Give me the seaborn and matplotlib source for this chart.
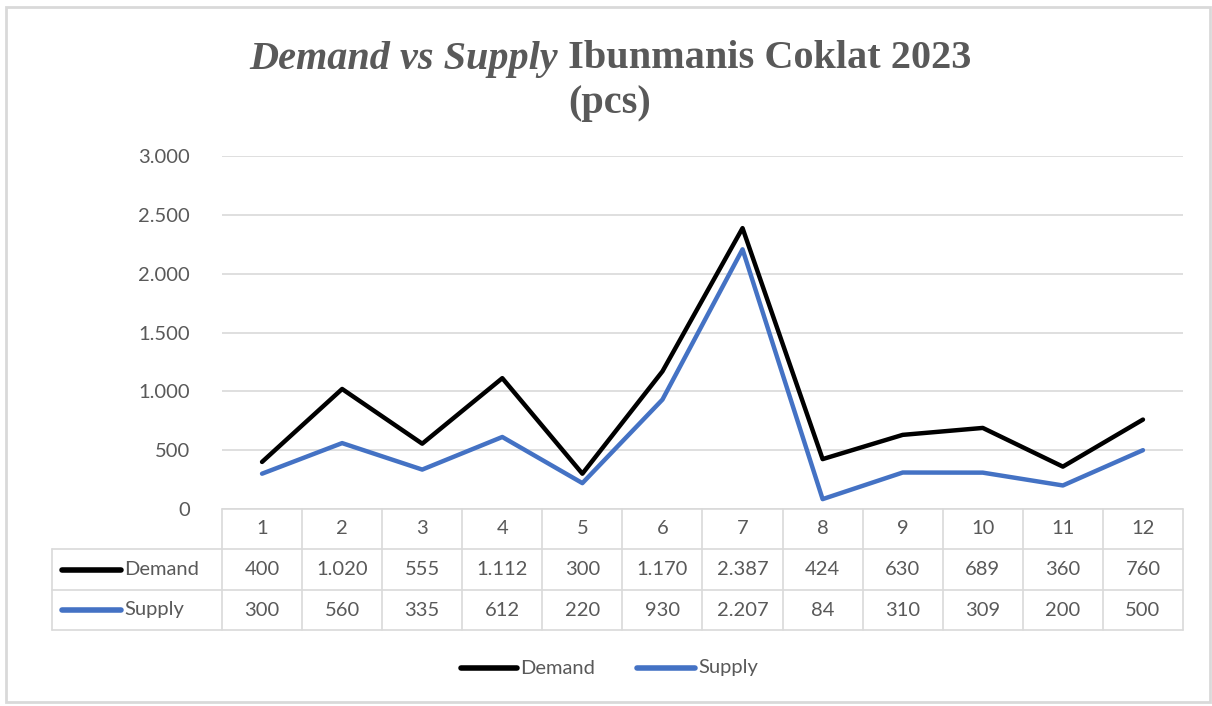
import matplotlib
matplotlib.use("Agg")
import matplotlib.pyplot as plt
import matplotlib.transforms as mtrans
from matplotlib.lines import Line2D
from matplotlib.patches import Rectangle
import seaborn as sns
import pandas as pd

months = ["1", "2", "3", "4", "5", "6", "7", "8", "9", "10", "11", "12"]
demand = [400, 1020, 555, 1112, 300, 1170, 2387, 424, 630, 689, 360, 760]
supply = [300, 560, 335, 612, 220, 930, 2207, 84, 310, 309, 200, 500]
yticks = [0, 500, 1000, 1500, 2000, 2500, 3000]
series_names = ["Demand", "Supply"]
colors = {"Demand": "#000000", "Supply": "#4472C4"}

def fmt(v):
    return f"{v:,}".replace(",", ".")

sns.set_theme(style="white")
plt.rcParams["font.family"] = ["Lato", "DejaVu Sans"]
TXT = "#595959"
GRID = "#d9d9d9"
FS = 14.5

W, H = 1212, 706
fig = plt.figure(figsize=(W / 100, H / 100), dpi=100)

def fx(px):
    return px / W

def fy(py):
    return 1 - py / H

left, right, top, bottom = 222, 1183, 156, 509
ax = fig.add_axes([fx(left), fy(bottom), fx(right - left), (bottom - top) / H])

df = pd.DataFrame({
    "x": list(range(len(months))) * 2,
    "value": demand + supply,
    "series": ["Demand"] * len(months) + ["Supply"] * len(months),
})
sns.lineplot(data=df, x="x", y="value", hue="series", palette=colors,
             linewidth=3.2, ax=ax, legend=False, solid_capstyle="round")

ax.set_xlim(-0.5, len(months) - 0.5)
ax.set_ylim(0, 3000)
ax.set_yticks(yticks)
ax.set_yticklabels([fmt(v) for v in yticks], fontsize=FS, color=TXT)
ax.tick_params(axis="y", length=0, pad=23)
ax.set_xticks([])
ax.set_xlabel("")
ax.set_ylabel("")
for s in ax.spines.values():
    s.set_visible(False)
ax.yaxis.grid(True, color=GRID, linewidth=1.2)
ax.set_axisbelow(True)

# data table below axis
tr = mtrans.blended_transform_factory(ax.transData, fig.transFigure)
rows_y = [509, 549, 590, 630]
n = len(months)
lw = 1.2
fig.add_artist(Line2D([-0.5, n - 0.5], [fy(rows_y[0])] * 2, transform=tr, color=GRID, lw=lw))
for yy in rows_y[1:]:
    fig.add_artist(Line2D([fx(52), fx(right)], [fy(yy)] * 2, transform=fig.transFigure, color=GRID, lw=lw))
for i in range(n + 1):
    fig.add_artist(Line2D([i - 0.5] * 2, [fy(rows_y[0]), fy(rows_y[3])], transform=tr, color=GRID, lw=lw))
fig.add_artist(Line2D([fx(52)] * 2, [fy(rows_y[1]), fy(rows_y[3])], transform=fig.transFigure, color=GRID, lw=lw))

for i, m in enumerate(months):
    fig.text(i, fy((rows_y[0] + rows_y[1]) / 2), m, transform=tr, ha="center", va="center",
             fontsize=FS, color=TXT)
    fig.text(i, fy((rows_y[1] + rows_y[2]) / 2), fmt(demand[i]), transform=tr, ha="center",
             va="center", fontsize=FS, color=TXT)
    fig.text(i, fy((rows_y[2] + rows_y[3]) / 2), fmt(supply[i]), transform=tr, ha="center",
             va="center", fontsize=FS, color=TXT)

for k, name in enumerate(series_names):
    yc = fy((rows_y[k + 1] + rows_y[k + 2]) / 2)
    fig.add_artist(Line2D([fx(62), fx(121)], [yc, yc], transform=fig.transFigure,
                          color=colors[name], lw=4, solid_capstyle="round"))
    fig.text(fx(124), yc, name, ha="left", va="center", fontsize=FS, color=TXT)

# legend
leg_y = fy(668)
for x0, x1, name in [(461, 517, "Demand"), (637, 695, "Supply")]:
    fig.add_artist(Line2D([fx(x0), fx(x1)], [leg_y, leg_y], transform=fig.transFigure,
                          color=colors[name], lw=4, solid_capstyle="round"))
    fig.text(fx(x1 + 3), leg_y, name, ha="left", va="center", fontsize=FS, color=TXT)

# title
serif = ["Liberation Serif", "DejaVu Serif"]
TFS = 29
title_y1 = fy(59)
parts = [("Demand vs Supply", "italic"), (" Ibunmanis Coklat 2023", "normal")]
fig.canvas.draw()
renderer = fig.canvas.get_renderer()
texts = []
widths = []
for s, st in parts:
    t = fig.text(0, title_y1, s, fontsize=TFS, fontweight="bold", fontstyle=st,
                 family=serif, color=TXT, va="center", ha="left")
    texts.append(t)
    widths.append(t.get_window_extent(renderer).width)
total = sum(widths)
x0 = (610 - total / 2) / W
for t, w in zip(texts, widths):
    t.set_x(x0)
    x0 += w / W
fig.text(fx(610), fy(104), "(pcs)", fontsize=TFS, fontweight="bold", family=serif,
         color=TXT, ha="center", va="center")

# outer border
fig.add_artist(Rectangle((fx(6), fy(702)), fx(1210 - 6), (702 - 7) / H, transform=fig.transFigure,
                         fill=False, edgecolor=GRID, lw=2))

fig.savefig("out.png", dpi=100)
